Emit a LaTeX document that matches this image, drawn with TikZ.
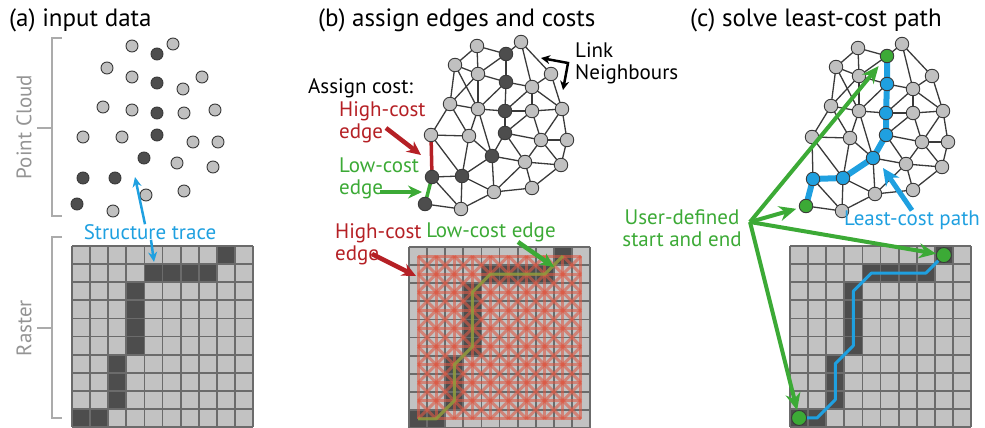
\documentclass[tikz,border=0pt]{standalone}
\usepackage{fontspec}
\setmainfont{PT Sans}
\usepackage{xcolor}
\usetikzlibrary{arrows.meta, positioning, calc, backgrounds}

\definecolor{nodegray}{HTML}{C0C0C0}
\definecolor{nodedark}{HTML}{4D4D4D}
\definecolor{edgegray}{HTML}{3A3A3A}
\definecolor{gridgray}{HTML}{6B6B6B}
\definecolor{cellgray}{HTML}{C2C2C2}
\definecolor{pathblue}{HTML}{1FA0E0}
\definecolor{lowgreen}{HTML}{3CAA36}
\definecolor{costred}{HTML}{B52025}
\definecolor{overlayred}{HTML}{DC5A46}
\definecolor{olivepath}{HTML}{7FA63C}
\definecolor{bracketgray}{HTML}{ABABAB}

\begin{document}
\begin{tikzpicture}[%
  x=1pt, y=-1pt,
  every node/.style={font=\fontsize{21}{22}\selectfont, inner sep=0pt},
  title/.style={font=\fontsize{25}{27}\selectfont, anchor=west},
  sidelabel/.style={text=black!42, rotate=90},
  bracket/.style={draw=bracketgray, line width=1.5pt},
  cloud-l/.style={circle, draw=edgegray, line width=0.9pt, minimum size=12pt, fill=nodegray},
  cloud-d/.style={circle, draw=edgegray, line width=0.9pt, minimum size=12pt, fill=nodedark},
  gnode/.style={circle, draw=edgegray, line width=0.9pt, minimum size=13.5pt},
  gnb-l/.style={gnode, fill=nodegray},
  gnb-p/.style={gnode, fill=nodedark},
  gnb-s/.style={gnode, fill=nodedark},
  gnc-l/.style={gnode, fill=nodegray},
  gnc-p/.style={gnode, fill=pathblue},
  gnc-s/.style={gnode, fill=lowgreen},
  gedge/.style={draw=edgegray, line width=1.3pt},
  gridline/.style={draw=gridgray, line width=1.8pt},
  costgrid/.style={draw=overlayred, draw opacity=0.6, line width=3pt},
  tracearr/.style={-{Stealth[length=10pt, width=9pt]}, line width=2.5pt, pathblue},
  costarr/.style={-{Stealth[length=14pt, width=13pt]}, line width=4.5pt, costred},
  lowarr/.style={-{Stealth[length=14pt, width=13pt]}, line width=4.5pt, lowgreen},
  linkarr/.style={{Stealth[length=9pt, width=9pt]}-{Stealth[length=9pt, width=9pt]}, line width=2.5pt, black},
  userarr/.style={-{Stealth[length=17pt, width=15pt]}, line width=4pt, lowgreen},
  lcparr/.style={-{Stealth[length=17pt, width=16pt]}, line width=5pt, pathblue},
  pics/raster/.style={code={
    \fill[cellgray] (0,0) rectangle (181,181);
    \foreach \c/\r in {8/0, 4/1, 5/1, 6/1, 7/1, 3/2, 3/3, 3/4, 3/5, 2/6, 2/7, 2/8, 0/9, 1/9}
      \fill[nodedark] (18.1*\c,18.1*\r) rectangle ++(18.1,18.1);
    \foreach \i in {0,...,10} {
      \draw[gridline] (18.1*\i,0) -- (18.1*\i,181);
      \draw[gridline] (0,18.1*\i) -- (181,18.1*\i);
    }
  }}
]
\useasboundingbox (0,0) rectangle (985,428);

% 1. Titles
\node[title] (ta) at (9,20) {(a) input data};
\node[title] (tb) at (318,20) {(b) assign edges and costs};
\node[title] (tc) at (690,20) {(c) solve least-cost path};

% 2. Input data: point cloud and raster
\draw[bracket] (62,38) -- (52,38) -- (52,216) -- (62,216) (52,128) -- (37,128);
\draw[bracket] (62,237) -- (52,237) -- (52,418) -- (62,418) (52,328) -- (37,328);
\node[sidelabel] (pcl) at (24,127) {Point Cloud};
\node[sidelabel] (rl) at (24,328) {Raster};

\foreach \x/\y/\t [count=\k] in {132/46/l, 157/54/d, 173/44/l, 107/68/l, 132/77/l, 157/83/d,
    183/89/l, 202/77/l, 103/107/l, 132/110/l, 157/113/d, 184/113/l, 215/110/l, 83/137/l,
    122/137/l, 157/135/d, 193/142/l, 218/142/l, 144/158/d, 177/163/l, 213/167/l, 83/178/d,
    115/178/d, 146/195/l, 184/191/l, 77/204/d, 113/211/l}
  \node[cloud-\t] (pc\k) at (\x,\y) {};

\pic at (72,246) {raster};

\node[text=pathblue] (trace) at (150,232) {Structure trace};
\coordinate (traceUp) at (135,177);
\coordinate (traceDown) at (154,262);
\draw[tracearr] ([xshift=-5pt]trace.north) -- (traceUp);
\draw[tracearr] ([xshift=1pt]trace.south) -- (traceDown);

% 3. Graphs (b) and (c)
\def\graphnodes{a/858/48/l, b/902/44/l, s1/887/56/s, c/836/67/l, d/859/76/l, p1/887/84/p,
  e/932/76/l, f/913/89/l, h/831/106/l, i/859/111/l, p2/886/113/p, j/913/113/l, k/943/111/l,
  l/812/137/l, m/850/138/l, p3/886/135/p, n/922/142/l, o/948/142/l, p4/873/158/p,
  q/906/164/l, r/942/167/l, p5/843/178/p, p6/813/179/p, t/875/194/l, u/913/190/l,
  s2/806/206/s, w/842/211/l}
\def\graphedges{a/c, a/s1, a/d, b/s1, b/e, b/f, s1/d, s1/p1, c/d, c/h, c/i, d/h, d/i, d/p1,
  p1/f, p1/p2, p1/i, e/f, e/k, f/k, f/j, f/p2, h/i, h/l, h/m, i/m, i/p2, i/p4, p2/j, p2/p3,
  j/k, j/p3, j/n, k/n, k/o, l/m, l/p6, l/p5, m/p5, m/p4, p3/p4, p3/n, p3/q, n/o, n/q, n/r,
  o/r, q/r, q/u, r/u, p4/q, p4/p5, p4/t, p6/p5, p6/s2, p6/w, p5/w, p5/t, s2/w, w/t, t/u, t/q}

\foreach \n/\x/\y/\t in \graphnodes {
  \node[gnb-\t] (b\n) at (\x-381,\y-2) {};
  \node[gnc-\t] (c\n) at (\x,\y) {};
}

\begin{scope}[on background layer]
  \foreach \u/\v in \graphedges {
    \draw[gedge] (b\u.center) -- (b\v.center);
    \draw[gedge] (c\u.center) -- (c\v.center);
  }
  \draw[costred, line width=3.5pt] (bl.center) -- (bp6.center);
  \draw[lowgreen, line width=3.5pt] (bp6.center) -- (bs2.center);
  \draw[pathblue, line width=6pt, line join=round] (cs1.center) -- (cp1.center) -- (cp2.center)
    -- (cp3.center) -- (cp4.center) -- (cp5.center) -- (cp6.center) -- (cs2.center);
\end{scope}

\node[anchor=west] (assign) at (308,88) {Assign cost:};
\node[anchor=west, align=left, text=costred] (hiA) at (339,122) {High-cost\\edge};
\node[anchor=west, align=left, text=lowgreen] (loA) at (339,178) {Low-cost\\edge};
\coordinate (hiTailA) at (386,128);
\coordinate (hiTipA) at (421,155);
\draw[costarr] (hiTailA) -- (hiTipA);
\coordinate (loTailA) at (380,192);
\coordinate (loTipA) at (422,192);
\draw[lowarr] (loTailA) -- (loTipA);

\node[anchor=west, align=left] (link) at (575,63) {Link\\Neighbours};
\coordinate (linkA) at (541,58);
\coordinate (linkC) at (568,63);
\coordinate (linkB) at (563,90);
\draw[linkarr] (linkA) -- (linkC) -- (linkB);

% 4. Raster with cost edges (b)
\pic at (409,247) {raster};
\begin{scope}[shift={(409,247)}]
  \foreach \i in {0,...,9} {
    \draw[costgrid] (9.05,9.05+18.1*\i) -- (171.95,9.05+18.1*\i);
    \draw[costgrid] (9.05+18.1*\i,9.05) -- (9.05+18.1*\i,171.95);
  }
  \foreach \i in {0,...,8}
    \foreach \j in {0,...,8} {
      \draw[costgrid] (9.05+18.1*\i,9.05+18.1*\j) -- ++(18.1,18.1);
      \draw[costgrid] (27.15+18.1*\i,9.05+18.1*\j) -- ++(-18.1,18.1);
    }
  \draw[olivepath, opacity=0.75, line width=3pt, line join=round]
    (9.05,171.95) -- (27.15,171.95) -- (45.25,153.85) -- (45.25,117.65) -- (63.35,99.55)
    -- (63.35,45.25) -- (81.45,27.15) -- (135.75,27.15) -- (153.85,9.05);
\end{scope}

\node[anchor=west, align=left, text=costred] (hiB) at (335,244) {High-cost\\edge};
\coordinate (hiTailB) at (372,254);
\coordinate (hiTipB) at (416,276);
\draw[costarr] (hiTailB) -- (hiTipB);
\node[text=lowgreen] (loB) at (491,232) {Low-cost edge};
\coordinate (loTailB) at (518,242);
\coordinate (loTipB) at (554,267);
\draw[lowarr] (loTailB) -- (loTipB);

% 5. Least-cost path on the raster (c)
\pic at (790,246) {raster};
\node[gnode, fill=lowgreen, minimum size=15pt] (cStart) at (799.05,417.95) {};
\node[gnode, fill=lowgreen, minimum size=15pt] (cEnd) at (943.85,255.05) {};
\draw[pathblue, line width=3pt, line join=round] (cStart.east) -- (817.15,417.95) -- (835.25,399.85)
  -- (835.25,363.65) -- (853.35,345.55) -- (853.35,291.25) -- (871.45,273.15) -- (925.75,273.15)
  -- (cEnd.south west);

% 6. User-defined start and end
\node[align=center, text=lowgreen] (user) at (682,228) {User-defined\\start and end};
\coordinate (hub) at (750,222);
\draw[userarr, shorten >=6pt] (hub) -- (cs1);
\draw[userarr, shorten >=3pt] (hub) -- (cs2);
\draw[userarr] (hub) -- (cEnd);
\draw[userarr] (hub) -- (cStart);

\node[text=pathblue] (lcp) at (912,220) {Least-cost path};
\coordinate (lcpTip) at (883,168);
\draw[lcparr] (lcp.north) -- (lcpTip);

\end{tikzpicture}
\end{document}
